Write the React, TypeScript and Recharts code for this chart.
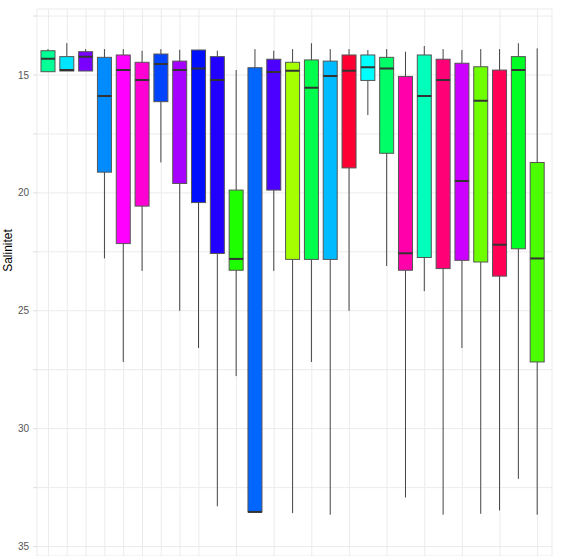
import React from 'react'
import { ComposedChart, Bar, XAxis, YAxis, CartesianGrid, Label } from 'recharts'

// one entry per station, left to right
const stations = Array.from({ length: 27 }, (_, i) => `${i + 1}`)
const lows = [13.9, 13.65, 13.9, 13.9, 13.9, 13.97, 13.9, 13.93, 13.93, 13.97, 14.79, 13.9, 13.97, 13.9, 13.65, 13.9, 13.9, 13.94, 13.9, 14.01, 13.77, 13.9, 13.94, 13.9, 13.9, 13.65, 13.87]
const q1s = [13.97, 14.22, 14.01, 14.25, 14.15, 14.46, 14.11, 14.41, 13.94, 14.22, 19.88, 14.69, 14.33, 14.46, 14.36, 14.41, 14.15, 14.15, 14.25, 15.06, 14.15, 14.33, 14.5, 14.65, 14.79, 14.22, 18.71]
const medians = [14.31, 14.79, 14.22, 15.89, 14.79, 15.21, 14.53, 14.79, 14.72, 15.21, 22.8, 33.53, 14.87, 14.82, 15.54, 15.04, 14.82, 14.67, 14.72, 22.56, 15.89, 15.21, 19.5, 16.09, 22.2, 14.79, 22.78]
const q3s = [14.86, 14.83, 14.83, 19.12, 22.15, 20.56, 16.13, 19.6, 20.41, 22.57, 23.28, 33.53, 19.88, 22.82, 22.82, 22.82, 18.94, 15.23, 18.32, 23.28, 22.74, 23.21, 22.86, 22.93, 23.53, 22.37, 27.17]
const highs = [14.86, 14.83, 14.83, 22.78, 27.17, 23.31, 18.71, 25.0, 26.58, 33.29, 27.77, 33.53, 23.31, 33.58, 27.17, 33.65, 25.0, 16.7, 23.1, 32.92, 24.17, 33.65, 26.58, 33.61, 33.47, 32.13, 33.65]
const colors = ['#00FF94', '#00E5FF', '#7A00FF', '#008CFF', '#FF00FF', '#FF00D4', '#0044FF', '#A600FF', '#0010FF', '#2200FF', '#1EFF00', '#0066FF', '#4C00FF', '#A6FF00', '#00FF4C', '#00BBFF', '#FF0033', '#00FFFF', '#00FF66', '#FF00AA', '#00FFBB', '#FF0077', '#CC00FF', '#6EFF00', '#FF0055', '#00FF22', '#4CFF00']
const yTicks = [12.5, 15, 17.5, 20, 22.5, 25, 27.5, 30, 32.5, 35]

const data = stations.map((name, i) => ({
  name,
  whisker: [lows[i], highs[i]],
  low: lows[i],
  q1: q1s[i],
  median: medians[i],
  q3: q3s[i],
  high: highs[i],
  color: colors[i],
}))

// draws whisker, box and median from the bar spanning low..high
function BoxShape(props: any) {
  const { x, y, width, height } = props
  const d = props.payload ?? props
  const top = Math.min(y, y + height)
  const h = Math.abs(height)
  const k = h / (d.high - d.low)
  const py = (v: number) => top + (v - d.low) * k
  const cx = x + width / 2
  return (
    <g>
      <line x1={cx} x2={cx} y1={py(d.low)} y2={py(d.high)} stroke="#444" strokeWidth={1} />
      <rect
        x={x}
        y={py(d.q1)}
        width={width}
        height={Math.max(py(d.q3) - py(d.q1), 0.5)}
        fill={d.color}
        stroke="#555"
        strokeWidth={1}
      />
      <line x1={x} x2={x + width} y1={py(d.median)} y2={py(d.median)} stroke="#333" strokeWidth={2} />
    </g>
  )
}

export default function App() {
  return (
    <div style={{ width: 565, height: 556, background: '#fff', fontFamily: '"Liberation Sans", Arial, sans-serif' }}>
      <style>{'body{margin:0}'}</style>
      <ComposedChart
        width={565}
        height={556}
        data={data}
        margin={{ top: 9, right: 13, bottom: 0, left: 0 }}
      >
        <CartesianGrid stroke="#EBEBEB" strokeWidth={1} />
        <XAxis dataKey="name" hide padding={{ left: 2, right: 5 }} />
        <YAxis
          type="number"
          reversed
          domain={[12.2, 35.4]}
          allowDataOverflow
          ticks={yTicks}
          interval={0}
          width={37}
          axisLine={false}
          tickSize={4}
          tickMargin={4}
          tickLine={{ stroke: '#DDDDDD' }}
          tick={{ fill: '#555', fontSize: 10 }}
          tickFormatter={(v: number) => (v % 5 === 0 ? `${v}` : '')}
        >
          <Label
            content={({ viewBox }: any) => {
              const cx = viewBox.x + 8
              const cy = viewBox.y + viewBox.height / 2 - 32
              return (
                <text
                  x={cx}
                  y={cy}
                  transform={`rotate(-90 ${cx} ${cy})`}
                  textAnchor="middle"
                  dominantBaseline="central"
                  fontSize={12}
                  fill="#000"
                >
                  Salinitet
                </text>
              )
            }}
          />
        </YAxis>
        <Bar dataKey="whisker" barSize={14} shape={BoxShape} isAnimationActive={false} />
      </ComposedChart>
    </div>
  )
}
